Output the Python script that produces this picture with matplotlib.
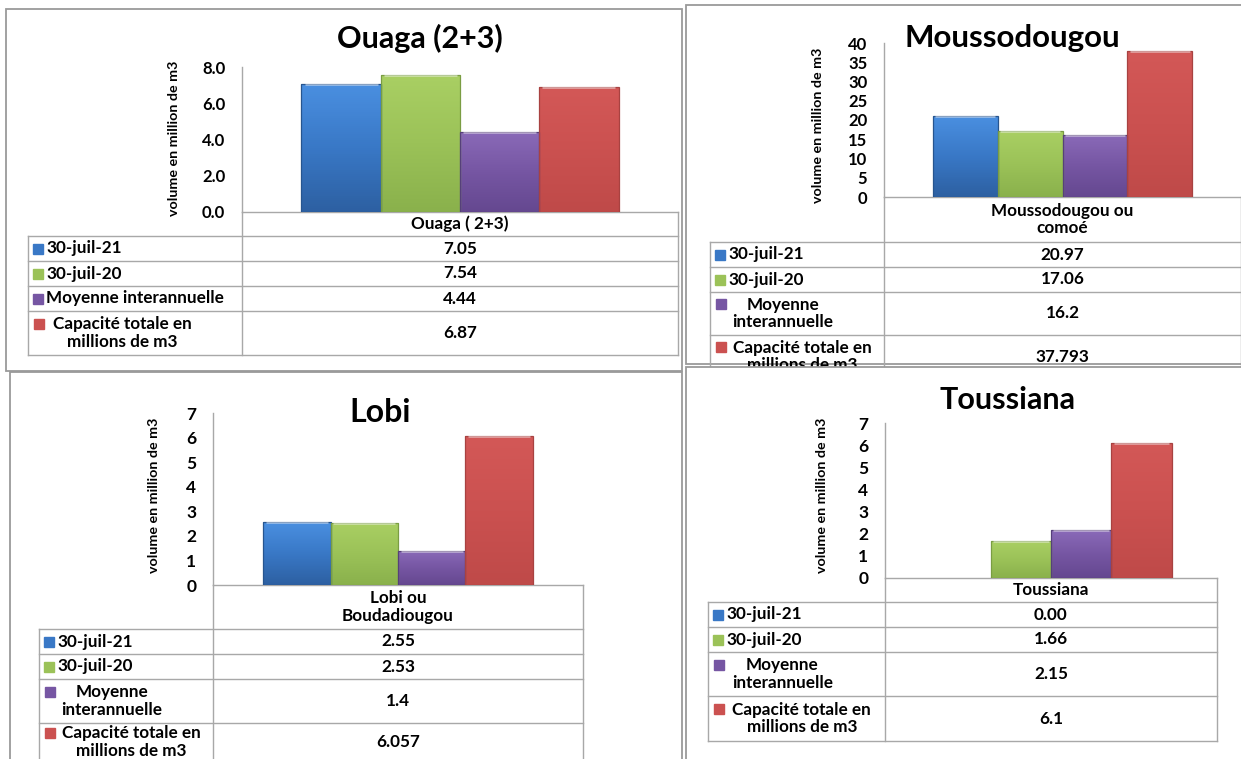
import numpy as np
import matplotlib
matplotlib.use('Agg')
import matplotlib.pyplot as plt
from matplotlib.colors import LinearSegmentedColormap
from matplotlib.patches import Rectangle

W, H = 1241, 759
FONT = ['Lato', 'DejaVu Sans']

# data, as shown in the data tables
series = ['30-juil-21', '30-juil-20', 'Moyenne interannuelle',
          'Capacité totale en millions de m3']
titles = ['Ouaga (2+3)', 'Moussodougou', 'Lobi', 'Toussiana']
categories = ['Ouaga ( 2+3)', 'Moussodougou ou\ncomoé', 'Lobi ou\nBoudadiougou', 'Toussiana']
ouaga = ['7.05', '7.54', '4.44', '6.87']
moussodougou = ['20.97', '17.06', '16.2', '37.793']
lobi = ['2.55', '2.53', '1.4', '6.057']
toussiana = ['0.00', '1.66', '2.15', '6.1']
ylabel = 'volume en million de m3'

# colours (bottom / middle / top of the bar gradient)
col_bottom = ['#2d60a2', '#8ab14c', '#654890', '#bf4a49']
col_mid = ['#3978c6', '#9bc258', '#7656a3', '#cb5150']
col_top = ['#4a8fe0', '#a9cf63', '#8a6ab8', '#d35857']
col_edge = ['#27558f', '#7a9d43', '#56407a', '#a84241']

# layout in pixels of the 1241x759 picture
panels = [
    dict(values=ouaga, frame=(6, 9, 682, 371), axis_x=242, right=678, ytop=67, yzero=212,
         ymax=8, step=2, fmt='{:.1f}', tick_fs=12, title_xy=(420, 38), title_fs=22,
         ylab_xy=(174, 138), label_left=28, rows=[236, 261, 286, 311, 355],
         wrap_moy=False, cap_rel=0.44, z=1),
    dict(values=moussodougou, frame=(686, 5, 1260, 364), axis_x=884, right=1241, ytop=43, yzero=197,
         ymax=40, step=5, fmt='{:.0f}', tick_fs=12, title_xy=(1012, 38), title_fs=22.5,
         ylab_xy=(818, 125), label_left=710, rows=[242, 267, 292, 335, 378],
         wrap_moy=True, cap_rel=0.53, z=1),
    dict(values=lobi, frame=(10, 372, 682, 800), axis_x=213, right=583, ytop=413, yzero=585,
         ymax=7, step=1, fmt='{:.0f}', tick_fs=12.5, title_xy=(380, 413), title_fs=23,
         ylab_xy=(154, 495), label_left=39, rows=[629, 654, 679, 723, 761],
         wrap_moy=True, cap_rel=0.53, z=1),
    dict(values=toussiana, frame=(686, 367, 1260, 800), axis_x=885, right=1217, ytop=423, yzero=578,
         ymax=7, step=1, fmt='{:.0f}', tick_fs=12.5, title_xy=(1008, 400), title_fs=22,
         ylab_xy=(822, 495), label_left=708, rows=[602, 627, 652, 696, 741],
         wrap_moy=True, cap_rel=0.53, z=5),
]

plt.rcParams['font.family'] = FONT
fig = plt.figure(figsize=(W / 100, H / 100), dpi=100)
fig.patch.set_facecolor('white')

ov = fig.add_axes([0, 0, 1, 1], zorder=0)
ov.set_xlim(0, W)
ov.set_ylim(H, 0)
ov.axis('off')

FRAME_C = '#9a9a9a'
GRID_C = '#a8a8a8'
TXT_FS = 12.3

for i, p in enumerate(panels):
    z = p['z']
    x0, y0, x1, y1 = p['frame']
    ov.add_patch(Rectangle((x0, y0), x1 - x0, y1 - y0, facecolor='white',
                           edgecolor=FRAME_C, lw=1.3, zorder=z - 0.5))

    # title and axis label
    ov.text(*p['title_xy'], titles[i], ha='center', va='center', fontsize=p['title_fs'],
            fontweight='bold', zorder=z)
    ov.text(*p['ylab_xy'], ylabel, ha='center', va='center', rotation=90,
            fontsize=10.3, fontweight='bold', zorder=z)

    # data table
    ax_x, right, yz = p['axis_x'], p['right'], p['yzero']
    rows = p['rows']
    left = p['label_left']
    lk = dict(color=GRID_C, lw=1, zorder=z)
    ov.plot([ax_x, right], [yz, yz], **lk)
    ov.plot([ax_x, ax_x], [yz, rows[-1]], **lk)
    ov.plot([right, right], [yz, rows[-1]], **lk)
    ov.plot([left, left], [rows[0], rows[-1]], **lk)
    for r in rows:
        ov.plot([left, right], [r, r], **lk)
    vcx = (ax_x + right) / 2
    ov.text(vcx, (yz + rows[0]) / 2, categories[i], ha='center', va='center',
            fontsize=TXT_FS, fontweight='bold', linespacing=1.1, zorder=z)

    for k in range(4):
        ra, rb = rows[k], rows[k + 1]
        cy = (ra + rb) / 2
        ov.text(vcx, cy, p['values'][k], ha='center', va='center',
                fontsize=TXT_FS, fontweight='bold', zorder=z)
        multi = (k == 3) or (k == 2 and p['wrap_moy'])
        if not multi:
            ov.plot(left + 10, cy, marker='s', ms=6.5, color=col_mid[k], zorder=z)
            ov.text(left + 18, cy, series[k], ha='left', va='center',
                    fontsize=TXT_FS, fontweight='bold', zorder=z)
        else:
            if k == 2:
                lab = 'Moyenne\ninterannuelle'
                rel = 0.42
            else:
                lab = 'Capacité totale en\nmillions de m3'
                rel = p['cap_rel']
            tcx = left + rel * (ax_x - left)
            ov.plot(left + 11, cy - 9.5, marker='s', ms=6.5, color=col_mid[k], zorder=z)
            ov.text(tcx, cy, lab, ha='center', va='center', fontsize=TXT_FS,
                    fontweight='bold', linespacing=1.1, zorder=z)

    # bar chart
    ax = fig.add_axes([ax_x / W, 1 - yz / H, (right - ax_x) / W, (yz - p['ytop']) / H],
                      zorder=z + 1)
    ax.set_facecolor('none')
    vals = [float(v) for v in p['values']]
    xs = np.arange(4)
    bars = ax.bar(xs, vals, width=1.0, color=col_mid, edgecolor=col_edge, lw=0.9, zorder=3)
    grad = np.linspace(0, 1, 64).reshape(-1, 1)
    for k, b in enumerate(bars):
        if b.get_height() <= 0:
            b.set_visible(False)
            continue
        cmap = LinearSegmentedColormap.from_list('g%d' % k, [col_bottom[k], col_mid[k], col_top[k]])
        bx, bw, bh = b.get_x(), b.get_width(), b.get_height()
        im = ax.imshow(grad, extent=[bx, bx + bw, 0, bh], origin='lower', cmap=cmap,
                       aspect='auto', zorder=2.5)
        im.set_clip_path(b)
        b.set_facecolor('none')
        # light bevel along the top edge
        ax.plot([bx + 0.04 * bw, bx + 0.96 * bw], [bh, bh], color='white', alpha=0.45,
                lw=2, solid_capstyle='butt', zorder=3.5)
    ax.set_xlim(-1.25, 4.25)
    ax.set_ylim(0, p['ymax'])
    ticks = np.arange(0, p['ymax'] + p['step'] / 2, p['step'])
    ax.set_yticks(ticks)
    ax.set_yticklabels([p['fmt'].format(t) for t in ticks], fontsize=p['tick_fs'],
                       fontweight='bold')
    ax.tick_params(axis='y', length=0, pad=12)
    ax.set_xticks([])
    for s in ['top', 'right', 'bottom']:
        ax.spines[s].set_visible(False)
    ax.spines['left'].set_color(GRID_C)
    ax.spines['left'].set_linewidth(1)

fig.savefig('out.png', dpi=100, facecolor='white')
